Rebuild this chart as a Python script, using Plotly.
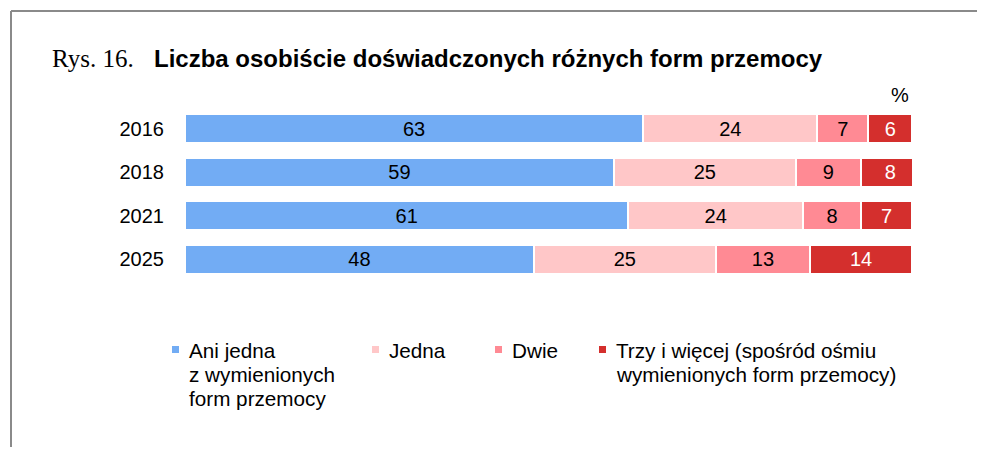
import plotly.graph_objects as go

years = ["2016", "2018", "2021", "2025"]
series_names = ["Ani jedna<br>z wymienionych<br>form przemocy", "Jedna", "Dwie",
                "Trzy i więcej (spośród ośmiu<br>wymienionych form przemocy)"]
ani_jedna = [63, 59, 61, 48]
jedna = [24, 25, 24, 25]
dwie = [7, 9, 8, 13]
trzy_i_wiecej = [6, 8, 7, 14]

colors = ["#72ACF4", "#FFC7C8", "#FF8A94", "#D42F2D"]
text_colors = ["#000000", "#000000", "#000000", "#FFFFFF"]

OFF = 8  # page body offset
W, H = 985 - 2 * OFF, 455 - 2 * OFF
L, R, T, B = 185 - OFF, 985 - OFF - 912, 107 - OFF, 455 - OFF - 281
PW, PH = W - L - R, H - T - B


def px_x(x):
    return (x - OFF - L) / PW


def px_y(y):
    return 1 - (y - OFF - T) / PH


fig = go.Figure()
for name, vals, c, tc in zip(series_names, [ani_jedna, jedna, dwie, trzy_i_wiecej], colors, text_colors):
    fig.add_trace(go.Bar(
        y=years, x=vals, orientation="h", name=name,
        marker=dict(color=c, line=dict(color="white", width=2)),
        text=[str(v) for v in vals], textposition="inside",
        insidetextanchor="middle", textangle=0,
        textfont=dict(family="Arial, Liberation Sans", size=20, color=tc),
        showlegend=False,
    ))

annotations = []
shapes = []
# Title
annotations.append(dict(text="Rys. 16.", x=px_x(50), y=px_y(59), xref="paper", yref="paper",
                        xanchor="left", yanchor="middle", showarrow=False,
                        font=dict(family="Liberation Serif, Times New Roman", size=25, color="#000")))
annotations.append(dict(text="<b>Liczba osobiście doświadczonych różnych form przemocy</b>",
                        x=px_x(152), y=px_y(58), xref="paper", yref="paper",
                        xanchor="left", yanchor="middle", showarrow=False,
                        font=dict(family="Liberation Sans, Arial", size=24, color="#000")))
annotations.append(dict(text="%", x=px_x(911), y=px_y(95), xref="paper", yref="paper",
                        xanchor="right", yanchor="middle", showarrow=False,
                        font=dict(family="Liberation Sans, Arial", size=20, color="#000")))

# Legend (manual)
legend_x = [187, 387, 510, 614]
line_y = [350, 374, 398]
for name, c, lx in zip(series_names, colors, legend_x):
    shapes.append(dict(type="rect", xref="paper", yref="paper",
                       x0=px_x(lx - 15), x1=px_x(lx - 8), y0=px_y(346), y1=px_y(353),
                       fillcolor=c, line=dict(width=0)))
    for i, line in enumerate(name.split("<br>")):
        annotations.append(dict(text=line, x=px_x(lx), y=px_y(line_y[i]), xref="paper", yref="paper",
                                xanchor="left", yanchor="middle", showarrow=False,
                                font=dict(family="Liberation Sans, Arial", size=20.7, color="#000")))

# Frame
shapes.append(dict(type="line", xref="paper", yref="paper", x0=px_x(11), x1=px_x(1000),
                   y0=px_y(11), y1=px_y(11), line=dict(color="#8A8A8A", width=2)))
shapes.append(dict(type="line", xref="paper", yref="paper", x0=px_x(11), x1=px_x(11),
                   y0=px_y(11), y1=px_y(470), line=dict(color="#8A8A8A", width=2)))

fig.update_layout(
    width=W, height=H, barmode="stack", bargap=0.336,
    margin=dict(l=L, r=R, t=T, b=B, pad=0),
    plot_bgcolor="white", paper_bgcolor="white",
    xaxis=dict(range=[0, 100], visible=False, fixedrange=True),
    yaxis=dict(autorange="reversed", showgrid=False, zeroline=False, showline=False,
               ticks="", ticklabelstandoff=20,
               tickfont=dict(family="Liberation Sans, Arial", size=20, color="#000")),
    uniformtext=dict(mode="show", minsize=20),
    annotations=annotations, shapes=shapes,
)

fig.write_html("out.html")
